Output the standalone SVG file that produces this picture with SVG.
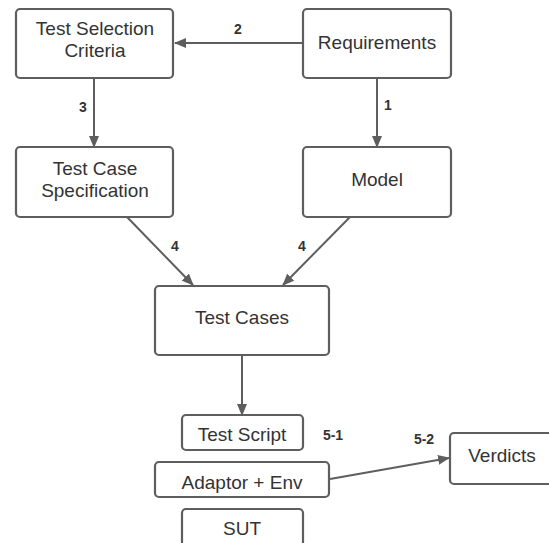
<svg xmlns="http://www.w3.org/2000/svg" width="549" height="543" viewBox="0 0 549 543">
<style>
.box{fill:#fff;stroke:#5e5e5e;stroke-width:2.2}
.t{font-family:"Liberation Sans",Arial,sans-serif;font-size:19px;fill:#333;text-anchor:middle}
.lbl{font-family:"Liberation Sans",Arial,sans-serif;font-size:14px;font-weight:bold;fill:#333;text-anchor:middle}
.c{stroke:#5e5e5e;stroke-width:2;fill:none;marker-end:url(#ah)}
</style>
<defs>
<marker id="ah" markerWidth="12" markerHeight="10" refX="11" refY="5" orient="auto" markerUnits="userSpaceOnUse">
<path d="M0,0 L12,5 L0,10 Z" fill="#5e5e5e"/>
</marker>
</defs>
<rect width="549" height="543" fill="#fff"/>
<g id="connectors">
<line class="c" x1="303" y1="43" x2="175" y2="43"/>
<line class="c" x1="94" y1="78" x2="94" y2="147"/>
<line class="c" x1="377" y1="78" x2="377" y2="147"/>
<line class="c" x1="127" y1="217" x2="193" y2="285"/>
<line class="c" x1="350" y1="217" x2="283" y2="285"/>
<line class="c" x1="242" y1="355" x2="242" y2="415"/>
<line class="c" x1="330" y1="479" x2="449" y2="458"/>
<text class="lbl" x="238" y="34">2</text>
<text class="lbl" x="83" y="112">3</text>
<text class="lbl" x="388" y="110">1</text>
<text class="lbl" x="175" y="251">4</text>
<text class="lbl" x="302" y="251">4</text>
<text class="lbl" x="333" y="440">5-1</text>
<text class="lbl" x="424" y="444">5-2</text>
</g>
<g id="test-selection-criteria">
<rect class="box" x="16" y="9" width="157" height="69" rx="4"/>
<text class="t" x="95" y="35">Test Selection</text>
<text class="t" x="95" y="57">Criteria</text>
</g>
<g id="requirements">
<rect class="box" x="303" y="9" width="148" height="69" rx="4"/>
<text class="t" x="377" y="49">Requirements</text>
</g>
<g id="test-case-specification">
<rect class="box" x="16" y="147" width="157" height="70" rx="4"/>
<text class="t" x="95" y="175">Test Case</text>
<text class="t" x="95" y="197">Specification</text>
</g>
<g id="model">
<rect class="box" x="303" y="147" width="148" height="70" rx="4"/>
<text class="t" x="377" y="186">Model</text>
</g>
<g id="test-cases">
<rect class="box" x="155" y="286" width="174" height="69" rx="4"/>
<text class="t" x="242" y="324">Test Cases</text>
</g>
<g id="test-script">
<rect class="box" x="182" y="415" width="121" height="35" rx="4"/>
<text class="t" x="242" y="441">Test Script</text>
</g>
<g id="adaptor-env">
<rect class="box" x="155" y="462" width="174" height="35" rx="4"/>
<text class="t" x="242" y="489">Adaptor + Env</text>
</g>
<g id="sut">
<rect class="box" x="182" y="509" width="121" height="40" rx="4"/>
<text class="t" x="242" y="535">SUT</text>
</g>
<g id="verdicts">
<rect class="box" x="450" y="433" width="110" height="51" rx="4"/>
<text class="t" x="502" y="462">Verdicts</text>
</g>
</svg>
